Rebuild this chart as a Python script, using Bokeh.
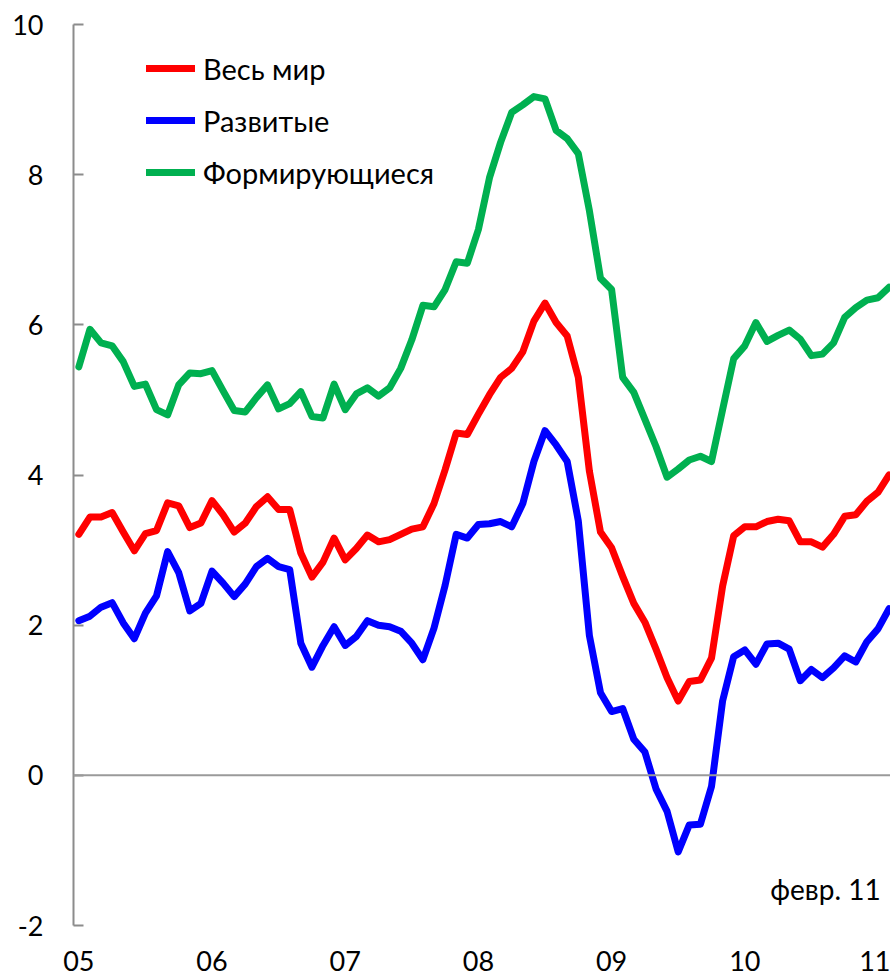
from bokeh.plotting import figure
from bokeh.models import Range1d, FixedTicker, Span, Label, Legend, LegendItem
from bokeh.embed import file_html
from bokeh.resources import INLINE

# Monthly data, Jan 2005 .. Feb 2011 (percent, y/y)
start_year = 2005
world = [3.21, 3.44, 3.44, 3.50, 3.24, 2.99, 3.22, 3.26, 3.63, 3.59, 3.30, 3.36,
         3.66, 3.47, 3.24, 3.36, 3.58, 3.71, 3.54, 3.54, 2.96, 2.64, 2.84, 3.16,
         2.87, 3.02, 3.20, 3.11, 3.14, 3.21, 3.28, 3.31, 3.62, 4.07, 4.56, 4.54,
         4.81, 5.07, 5.30, 5.42, 5.64, 6.05, 6.29, 6.03, 5.85, 5.30, 4.05, 3.24,
         3.03, 2.65, 2.29, 2.04, 1.68, 1.30, 0.99, 1.25, 1.27, 1.56, 2.52, 3.19,
         3.31, 3.31, 3.38, 3.41, 3.39, 3.11, 3.11, 3.04, 3.21, 3.45, 3.47, 3.65,
         3.77, 4.00]
developed = [2.06, 2.12, 2.24, 2.30, 2.03, 1.82, 2.16, 2.39, 2.98, 2.70, 2.19, 2.29,
             2.72, 2.56, 2.38, 2.55, 2.78, 2.89, 2.78, 2.74, 1.76, 1.44, 1.73, 1.98,
             1.73, 1.85, 2.06, 2.00, 1.98, 1.92, 1.76, 1.54, 1.96, 2.53, 3.21, 3.16,
             3.34, 3.35, 3.38, 3.31, 3.62, 4.18, 4.59, 4.40, 4.18, 3.39, 1.86, 1.10,
             0.85, 0.89, 0.48, 0.31, -0.18, -0.48, -1.02, -0.66, -0.65, -0.15, 0.99, 1.58,
             1.67, 1.48, 1.75, 1.76, 1.68, 1.26, 1.41, 1.30, 1.43, 1.59, 1.51, 1.78,
             1.95, 2.22]
emerging = [5.44, 5.94, 5.76, 5.72, 5.51, 5.18, 5.21, 4.87, 4.80, 5.20, 5.36, 5.35,
            5.39, 5.12, 4.86, 4.84, 5.03, 5.20, 4.88, 4.95, 5.11, 4.78, 4.76, 5.21,
            4.87, 5.08, 5.16, 5.05, 5.16, 5.42, 5.80, 6.26, 6.24, 6.47, 6.84, 6.82,
            7.27, 7.96, 8.43, 8.83, 8.93, 9.04, 9.01, 8.59, 8.48, 8.28, 7.52, 6.62,
            6.47, 5.30, 5.10, 4.74, 4.38, 3.97, 4.08, 4.20, 4.25, 4.18, 4.87, 5.55,
            5.72, 6.03, 5.78, 5.86, 5.93, 5.81, 5.59, 5.61, 5.76, 6.10, 6.23, 6.33,
            6.36, 6.50]
series_names = ["Весь мир", "Развитые", "Формирующиеся"]
series_colors = ["#FF0000", "#0000FF", "#00B050"]
year_ticks = [2005, 2006, 2007, 2008, 2009, 2010, 2011]
year_labels = ["05", "06", "07", "08", "09", "10", "11"]
y_ticks = [-2, 0, 2, 4, 6, 8, 10]
y_labels = ["-2", "0", "2", "4", "6", "8", "10"]
end_note = "февр. 11"

x = [start_year + i / 12 for i in range(len(world))]

FONT = "Lato"

p = figure(width=890, height=979, output_backend="svg", toolbar_location=None,
           x_range=Range1d(2004.960, 2011.094), y_range=Range1d(-2, 10),
           min_border_left=73, min_border_right=0, min_border_top=24, min_border_bottom=54)
p.styles = {"margin": "0px"}
p.outline_line_color = None
p.grid.visible = False
p.background_fill_color = "white"
p.border_fill_color = "white"

# y axis
ya = p.yaxis[0]
ya.ticker = FixedTicker(ticks=y_ticks)
ya.major_label_overrides = {t: l for t, l in zip(y_ticks, y_labels)}
ya.axis_line_color = "#8C8C8C"
ya.axis_line_width = 2
ya.major_tick_line_color = "#8C8C8C"
ya.major_tick_line_width = 2
ya.major_tick_in = 10
ya.major_tick_out = 0
ya.minor_tick_line_color = None
ya.major_label_standoff = 30
ya.major_label_text_font = FONT
ya.major_label_text_font_size = "27px"
ya.major_label_text_color = "black"

# x axis
xa = p.xaxis[0]
xa.ticker = FixedTicker(ticks=year_ticks)
xa.major_label_overrides = {t: l for t, l in zip(year_ticks, year_labels)}
xa.axis_line_color = None
xa.major_tick_line_color = None
xa.minor_tick_line_color = None
xa.major_tick_out = 0
xa.major_tick_in = 0
xa.major_label_standoff = 25
xa.major_label_text_font = FONT
xa.major_label_text_font_size = "27px"
xa.major_label_text_color = "black"

# zero line
p.add_layout(Span(location=0, dimension="width", line_color="#9A9A9A", line_width=2))

renderers = []
for vals, col in zip([world, developed, emerging], series_colors):
    r = p.line(x, vals, line_color=col, line_width=7, line_join="round", line_cap="round")
    renderers.append(r)

legend = Legend(items=[LegendItem(label=n, renderers=[r]) for n, r in zip(series_names, renderers)],
                location=(73, 727), orientation="vertical",
                glyph_width=49, glyph_height=52, label_height=52, spacing=0, padding=0, margin=0,
                label_standoff=8, label_text_font=FONT, label_text_font_size="29px",
                label_text_color="black", border_line_color=None, background_fill_alpha=0)
p.add_layout(legend)

p.add_layout(Label(x=2011.02, y=-1.51, text=end_note, text_align="right", text_baseline="middle",
                   text_font=FONT, text_font_size="28px", text_color="black"))

open("out.html", "w").write(file_html(p, INLINE))
